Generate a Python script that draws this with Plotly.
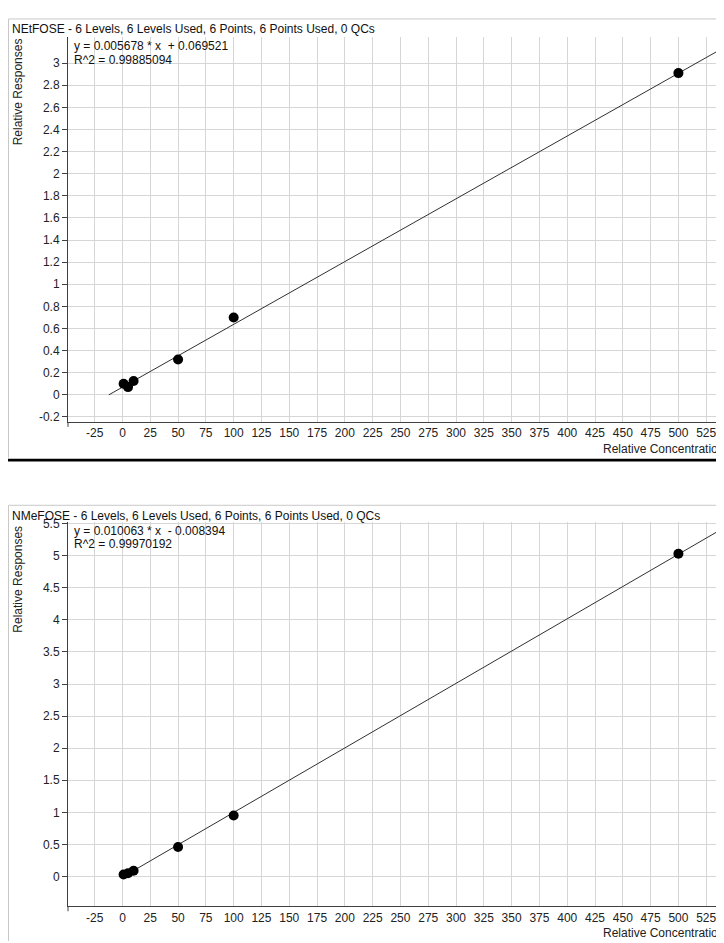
import plotly.graph_objects as go

# The page body has an 8px margin, so the figure is drawn 8px in from the window edge.
WIN_W, WIN_H = 724, 943
PAD = 8
W, H = WIN_W - PAD, WIN_H - PAD

# ---------------- data ----------------
levels = [1, 5, 10, 50, 100, 500]
netfose_resp = [0.10, 0.07, 0.125, 0.32, 0.70, 2.91]
nmefose_resp = [0.03, 0.05, 0.09, 0.46, 0.95, 5.03]

netfose_slope, netfose_icpt = 0.005678, 0.069521
nmefose_slope, nmefose_icpt = 0.010063, -0.008394
fit_x_end = 560

titles = ["NEtFOSE - 6 Levels, 6 Levels Used, 6 Points, 6 Points Used, 0 QCs",
          "NMeFOSE - 6 Levels, 6 Levels Used, 6 Points, 6 Points Used, 0 QCs"]
eq_line1 = ["y = 0.005678 * x  + 0.069521", "y = 0.010063 * x  - 0.008394"]
eq_line2 = ["R^2 = 0.99885094", "R^2 = 0.99970192"]
y_title = "Relative Responses"
x_title = "Relative Concentration"

x_tick_vals = list(range(-25, 526, 25))
x_tick_text = [str(v) for v in x_tick_vals]
top_y_vals = [-0.2, 0, 0.2, 0.4, 0.6, 0.8, 1, 1.2, 1.4, 1.6, 1.8, 2, 2.2, 2.4, 2.6, 2.8, 3]
top_y_text = ["-0.2", "0", "0.2", "0.4", "0.6", "0.8", "1", "1.2", "1.4", "1.6", "1.8",
              "2", "2.2", "2.4", "2.6", "2.8", "3"]
bot_y_vals = [0, 0.5, 1, 1.5, 2, 2.5, 3, 3.5, 4, 4.5, 5, 5.5]
bot_y_text = ["0", "0.5", "1", "1.5", "2", "2.5", "3", "3.5", "4", "4.5", "5", "5.5"]

# ---------------- helpers (window pixel -> paper fraction) ----------------
FONT = "Liberation Sans, Arial, sans-serif"
def fx(px):
    return (px - PAD) / W
def fy(py):
    return 1 - (py - PAD) / H

fig = go.Figure()

panels = [
    dict(resp=netfose_resp, m=netfose_slope, b=netfose_icpt, xa="x", ya="y"),
    dict(resp=nmefose_resp, m=nmefose_slope, b=nmefose_icpt, xa="x2", ya="y2"),
]
for p in panels:
    x0 = -p["b"] / p["m"]
    fx_line = [x0, fit_x_end]
    fy_line = [p["m"] * v + p["b"] for v in fx_line]
    fig.add_trace(go.Scatter(x=fx_line, y=fy_line, mode="lines",
                             line=dict(color="#303030", width=1),
                             xaxis=p["xa"], yaxis=p["ya"], showlegend=False,
                             hoverinfo="skip"))
    fig.add_trace(go.Scatter(x=levels, y=p["resp"], mode="markers",
                             marker=dict(color="black", size=10),
                             xaxis=p["xa"], yaxis=p["ya"], showlegend=False))

axis_common = dict(showgrid=True, gridcolor="#d6d6d6", gridwidth=1, zeroline=False,
                   showline=True, linecolor="#404040", linewidth=1,
                   tickfont=dict(family=FONT, size=12, color="#222222"))

x_range = [-49, 541]
xa = dict(axis_common, range=x_range, tickmode="array", tickvals=x_tick_vals,
          ticktext=x_tick_text, ticks="")
AX_L = 68
top_px = (32, 420)
bot_px = (521, 908)
top_dom = [fy(top_px[1]), fy(top_px[0])]
bot_dom = [fy(bot_px[1]), fy(bot_px[0])]

fig.update_layout(
    width=W, height=H, margin=dict(l=0, r=0, t=0, b=0),
    paper_bgcolor="white", plot_bgcolor="white",
    font=dict(family=FONT, size=12, color="#222222"),
    xaxis=dict(xa, domain=[fx(AX_L), 1], anchor="y"),
    yaxis=dict(axis_common, domain=top_dom, anchor="x", range=[-0.245, 3.238],
               tickmode="array", tickvals=top_y_vals, ticktext=top_y_text,
               ticks="outside", ticklen=5, tickcolor="#404040"),
    xaxis2=dict(xa, domain=[fx(AX_L), 1], anchor="y2"),
    yaxis2=dict(axis_common, domain=bot_dom, anchor="x2", range=[-0.464, 5.523],
                tickmode="array", tickvals=bot_y_vals, ticktext=bot_y_text,
                ticks="outside", ticklen=5, tickcolor="#404040"),
)

annotations = []
shapes = []
title_y = [24, 515]
eq1_y = [41, 530]
eq2_y = [55, 543]
ytitle_top = [32, 523]
xtitle_y = [447, 935]
for i in range(2):
    annotations.append(dict(text=titles[i], x=fx(10), y=fy(title_y[i]), xref="paper", yref="paper",
                            xanchor="left", yanchor="middle", showarrow=False,
                            font=dict(family=FONT, size=12, color="#111111")))
    annotations.append(dict(text=eq_line1[i], x=fx(72), y=fy(eq1_y[i]), xref="paper", yref="paper",
                            xanchor="left", yanchor="middle", showarrow=False,
                            font=dict(family=FONT, size=12, color="#111111")))
    annotations.append(dict(text=eq_line2[i], x=fx(72), y=fy(eq2_y[i]), xref="paper", yref="paper",
                            xanchor="left", yanchor="middle", showarrow=False,
                            font=dict(family=FONT, size=12, color="#111111")))
    annotations.append(dict(text=y_title, x=fx(18), y=fy(ytitle_top[i]), xref="paper", yref="paper",
                            xanchor="center", yanchor="top", textangle=-90, showarrow=False,
                            font=dict(family=FONT, size=12, color="#222222")))
    annotations.append(dict(text=x_title, x=fx(601), y=fy(xtitle_y[i]), xref="paper", yref="paper",
                            xanchor="left", yanchor="middle", showarrow=False,
                            font=dict(family=FONT, size=12, color="#222222")))
    top_b = 14 if i == 0 else 504
    bot_b = 456 if i == 0 else 943
    shapes.append(dict(type="line", xref="paper", yref="paper", x0=fx(8.5), x1=1,
                       y0=fy(top_b), y1=fy(top_b), line=dict(color="#c8c8c8", width=1)))
    shapes.append(dict(type="line", xref="paper", yref="paper", x0=fx(8.5), x1=fx(8.5),
                       y0=fy(top_b), y1=fy(bot_b), line=dict(color="#c8c8c8", width=1)))

# small corner ticks below the axes origin
for bottom in (top_px[1], bot_px[1]):
    shapes.append(dict(type="line", xref="paper", yref="paper", x0=fx(AX_L), x1=fx(AX_L),
                       y0=fy(bottom), y1=fy(bottom + 5), line=dict(color="#404040", width=1)))

shapes.append(dict(type="rect", xref="paper", yref="paper", x0=0, x1=1,
                   y0=fy(460), y1=fy(457), fillcolor="black", line=dict(width=0)))

fig.update_layout(annotations=annotations, shapes=shapes)
fig.write_html("out.html")
